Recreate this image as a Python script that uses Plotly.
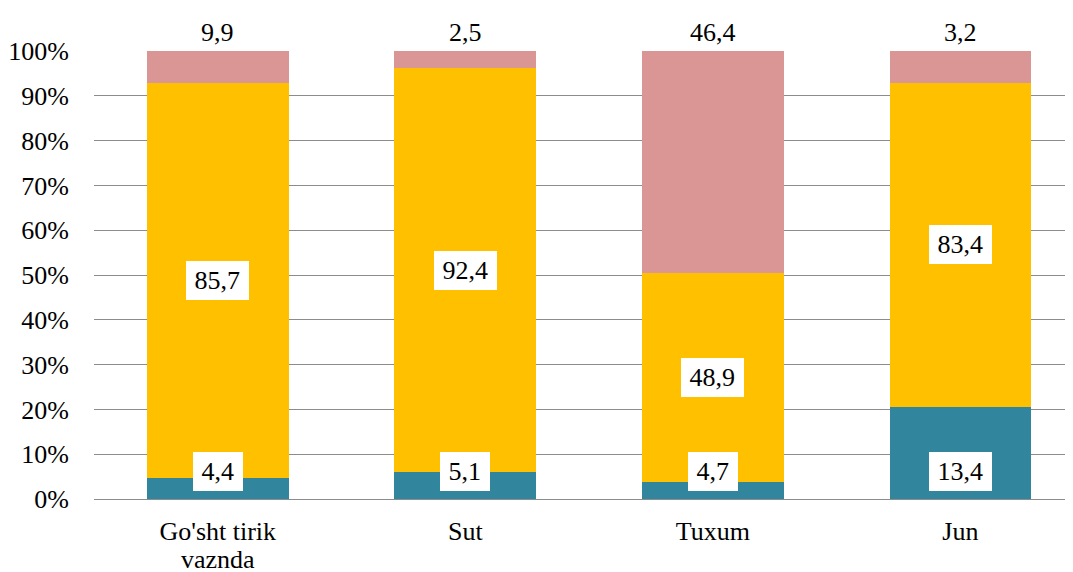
import plotly.graph_objects as go

categories = ["Go'sht tirik vaznda", "Sut", "Tuxum", "Jun"]
cat_line1 = ["Go'sht tirik", "Sut", "Tuxum", "Jun"]
cat_line2 = ["vaznda", "", "", ""]
# segment heights (share of bar, %) as drawn
teal_h = [4.6, 6.0, 3.75, 20.5]
yellow_h = [88.2, 90.1, 46.65, 72.4]
pink_h = [7.2, 3.9, 49.6, 7.1]
# data label texts shown on the chart
teal_lbl = ["4,4", "5,1", "4,7", "13,4"]
yellow_lbl = ["85,7", "92,4", "48,9", "83,4"]
pink_lbl = ["9,9", "2,5", "46,4", "3,2"]

yticks = list(range(0, 101, 10))
ytext = [f"{v}%" for v in yticks]

TEAL = "#31859C"
YELLOW = "#FFC000"
PINK = "#D99694"
FONT = "Liberation Serif, Times New Roman, serif"
FS = 26


def box_w(t):
    return sum(0.5 if ch.isdigit() else 0.25 for ch in t) * FS + 17


fig = go.Figure()
for h, col in [(teal_h, TEAL), (yellow_h, YELLOW), (pink_h, PINK)]:
    fig.add_trace(go.Bar(x=categories, y=h, marker=dict(color=col, line=dict(width=0)),
                         width=0.5725, showlegend=False, hoverinfo="skip"))

tf = dict(family=FONT, size=FS, color="black")
ann = []
for i, c in enumerate(categories):
    # inside base for first series
    ann.append(dict(x=c, y=0, text=teal_lbl[i], showarrow=False, yshift=27.3,
                    bgcolor="white", borderpad=0, borderwidth=0,
                    width=box_w(teal_lbl[i]), height=39, font=tf))
    ann.append(dict(x=c, y=teal_h[i] + yellow_h[i] / 2, text=yellow_lbl[i], showarrow=False,
                    bgcolor="white", borderpad=0, borderwidth=0,
                    width=box_w(yellow_lbl[i]), height=39, font=tf))
    ann.append(dict(x=c, y=teal_h[i] + yellow_h[i] + pink_h[i], text=pink_lbl[i], showarrow=False,
                    yshift=19, font=tf))
    if cat_line2[i]:
        ann.append(dict(x=c, y=0, text=cat_line2[i], showarrow=False, yanchor="top",
                        yshift=-44, font=tf))

fig.update_layout(
    barmode="stack",
    width=1073, height=572,
    margin=dict(l=86, r=8, t=43, b=80.5, autoexpand=False),
    paper_bgcolor="white", plot_bgcolor="white",
    annotations=ann,
    font=tf,
    xaxis=dict(range=[-0.5, 3.455], tickmode="array", tickvals=categories, ticktext=cat_line1,
               showgrid=False, showline=False, zeroline=False, automargin=False,
               ticks="", ticklabelstandoff=14, tickfont=tf),
    yaxis=dict(range=[0, 100], tickvals=yticks, ticktext=ytext, showgrid=True, automargin=False,
               gridcolor="#8C8C8C", gridwidth=1.4, zeroline=True, zerolinecolor="#8C8C8C",
               zerolinewidth=1.4, showline=False, ticks="", ticklabelstandoff=24,
               tickfont=tf),
)
fig.write_html("out.html")
